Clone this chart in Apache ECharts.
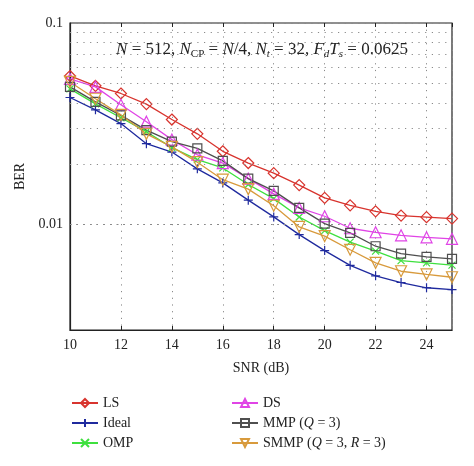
<!DOCTYPE html>
<html><head><meta charset="utf-8">
<script src="https://cdn.jsdelivr.net/npm/echarts@6/dist/echarts.min.js"></script>
<style>html,body{margin:0;padding:0;background:#fff}#c{width:474px;height:466px}</style>
</head><body><div id="c"></div>
<script>
const snr = [10,11,12,13,14,15,16,17,18,19,20,21,22,23,24,25];
const berLS    = [0.0546,0.0488,0.0447,0.0396,0.0332,0.0282,0.0231,0.0202,0.0180,0.0157,0.01356,0.01246,0.01163,0.01108,0.01089,0.01071];
const berIdeal = [0.0427,0.0371,0.0317,0.0252,0.0229,0.0189,0.0161,0.01322,0.01092,0.00892,0.00743,0.00628,0.00557,0.00516,0.00486,0.00476];
const berOMP   = [0.0471,0.0397,0.0339,0.0289,0.0241,0.0210,0.0191,0.0158,0.01345,0.0109,0.00934,0.00819,0.00738,0.00663,0.00646,0.00629];
const berDS    = [0.0528,0.0482,0.0393,0.0324,0.0264,0.0222,0.0202,0.0169,0.0142,0.0121,0.0110,0.00959,0.00916,0.00885,0.00865,0.00850];
const berMMP   = [0.0482,0.0406,0.0348,0.0294,0.0258,0.0239,0.0207,0.0169,0.0147,0.0121,0.01011,0.00910,0.00781,0.00718,0.00692,0.00676];
const berSMMP  = [0.0510,0.0421,0.0350,0.0282,0.0243,0.0204,0.0167,0.0150,0.0124,0.00974,0.00877,0.00750,0.00646,0.00587,0.00566,0.00548];
const yMajorLabels = [0.1, 0.01];
const yMinorGrid = [0.02,0.03,0.04,0.05,0.06,0.07,0.08,0.09,0.004,0.005,0.006,0.007,0.008,0.009];

const FONT = '"Liberation Serif", "DejaVu Serif", serif';
const SYM = {
  diamond: 'path://M0,-1L1,0L0,1L-1,0Z',
  plus: 'path://M-1,0L1,0M0,-1L0,1',
  cross: 'path://M-1,-1L1,1M-1,1L1,-1',
  up: 'path://M0,-1L1,0.75L-1,0.75Z',
  square: 'path://M-1,-1L1,-1L1,1L-1,1Z',
  down: 'path://M-1,-0.75L1,-0.75L0,1Z'
};
function mk(name, data, color, sym, size) {
  return {
    name, type: 'line', data: snr.map((x,i)=>[x,data[i]]),
    symbol: sym, symbolSize: size, showSymbol: true,
    lineStyle: {color, width: 1.3},
    itemStyle: {color: 'rgba(255,255,255,0)', borderColor: color, borderWidth: 1.2},
    emphasis: {disabled: true}, z: 3
  };
}
const gridDot = {color: '#8a8a8a', width: 1, type: [1.2, 5.5]};
const series = [
  mk('LS', berLS, '#d8342e', SYM.diamond, 11),
  mk('Ideal', berIdeal, '#1f2a9e', SYM.plus, 9),
  mk('OMP', berOMP, '#3ee03e', SYM.cross, 7),
  mk('DS', berDS, '#e044e6', SYM.up, 11),
  mk('MMP (Q = 3)', berMMP, '#4f4f4f', SYM.square, 9),
  mk('SMMP (Q = 3, R = 3)', berSMMP, '#d89a3c', SYM.down, 11),
  {type: 'line', data: [], silent: true,
   markLine: {silent: true, symbol: ['none','none'], label: {show: false},
     lineStyle: gridDot, emphasis: {disabled: true},
     data: yMinorGrid.map(v => ({yAxis: v}))}}
];
function legendFmt(name) {
  return name.replace(/\(Q = 3, R = 3\)/, '({n|}{i|Q}{n| = 3, }{i|R}{n| = 3})')
             .replace(/\(Q = 3\)$/, '({i|Q}{n| = 3})');
}
const legendText = {fontFamily: FONT, fontSize: 14, color: '#222',
  rich: {i: {fontFamily: FONT, fontSize: 14, fontStyle: 'italic', color: '#222'},
         n: {fontFamily: FONT, fontSize: 14, color: '#222'}}};
const chart = echarts.init(document.getElementById('c'), null, {renderer: 'canvas'});
chart.setOption({
  animation: false,
  backgroundColor: '#fff',
  grid: {left: 70, right: 22, top: 23, bottom: 136, show: true, borderColor: '#222', borderWidth: 1.2, backgroundColor: 'transparent'},
  xAxis: [{
    type: 'value', min: 10, max: 25, interval: 2,
    name: 'SNR (dB)', nameLocation: 'middle', nameGap: 31,
    nameTextStyle: {fontFamily: FONT, fontSize: 14, color: '#222'},
    axisLine: {show: true, lineStyle: {color: '#222', width: 1.2}},
    axisTick: {show: true, inside: true, length: 4, lineStyle: {color: '#222'}},
    axisLabel: {fontFamily: FONT, fontSize: 14, color: '#222', margin: 8, showMaxLabel: false},
    splitLine: {show: true, lineStyle: gridDot}
  }, {
    type: 'value', min: 10, max: 25, interval: 2, position: 'top',
    axisLine: {show: false}, axisLabel: {show: false},
    axisTick: {show: true, inside: true, length: 4, lineStyle: {color: '#222'}},
    splitLine: {show: false}
  }],
  yAxis: {
    type: 'log', logBase: 10, min: 0.003, max: 0.1,
    name: 'BER', nameLocation: 'middle', nameGap: 33,
    nameTextStyle: {fontFamily: FONT, fontSize: 14, color: '#222'},
    axisLine: {show: true, lineStyle: {color: '#222', width: 1.2}},
    axisTick: {show: false},
    axisLabel: {fontFamily: FONT, fontSize: 14, color: '#222', margin: 7, showMinLabel: false,
      formatter: v => { const m = yMajorLabels.find(t => Math.abs(t - v) / t < 1e-6); return m === undefined ? '' : String(m); }},
    splitLine: {show: true, lineStyle: gridDot}
  },
  legend: [{
    data: ['LS','Ideal','OMP'], orient: 'vertical', left: 66, top: 391,
    itemWidth: 26, itemHeight: 10, itemGap: 6, textStyle: legendText, formatter: legendFmt,
    selectedMode: false
  }, {
    data: ['DS','MMP (Q = 3)','SMMP (Q = 3, R = 3)'], orient: 'vertical', left: 226, top: 391,
    itemWidth: 26, itemHeight: 10, itemGap: 6, textStyle: legendText, formatter: legendFmt,
    selectedMode: false
  }],
  graphic: [{
    type: 'text', x: 262, y: 50, z: 10,
    style: {
      text: '{i|N} = 512, {i|N}{s|CP} = {i|N}/4, {i|N}{si|t} = 32, {i|F}{si|d}{i|T}{si|s} = 0.0625',
      align: 'center', verticalAlign: 'middle',
      fontFamily: FONT, fontSize: 17, fill: '#222', lineHeight: 22,
      backgroundColor: 'transparent',
      rich: {
        i: {fontFamily: FONT, fontSize: 17, fontStyle: 'italic', fill: '#222', lineHeight: 22},
        s: {fontFamily: FONT, fontSize: 11, fill: '#222', lineHeight: 22, padding: [9,0,0,0]},
        si: {fontFamily: FONT, fontSize: 11, fontStyle: 'italic', fill: '#222', lineHeight: 22, padding: [9,0,0,0]}
      }
    }
  }],
  series
});
</script></body></html>
